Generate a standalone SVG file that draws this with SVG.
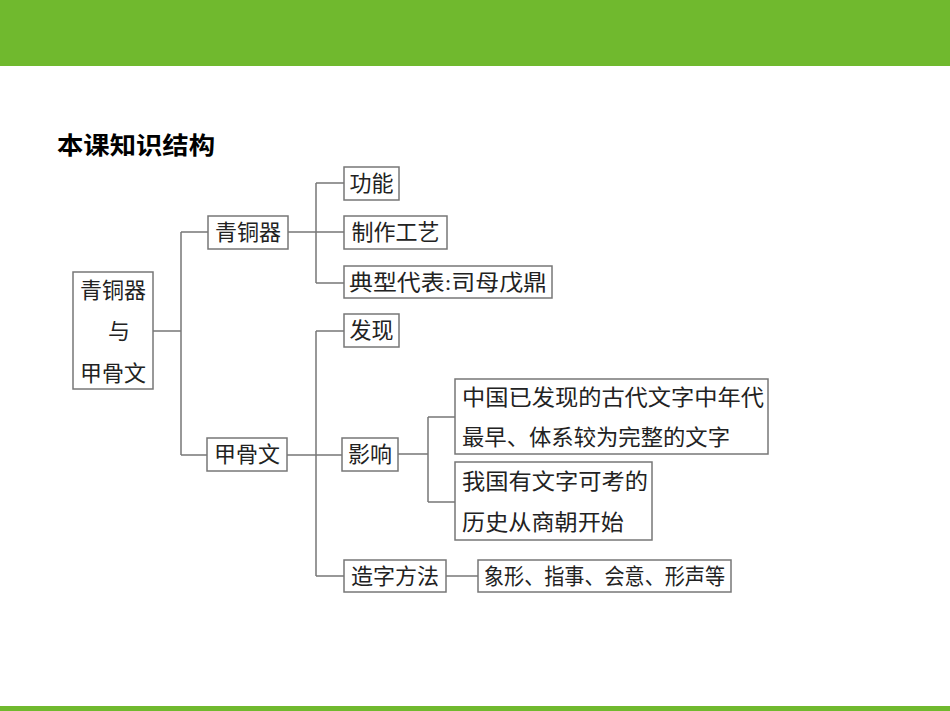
<svg xmlns="http://www.w3.org/2000/svg" width="950" height="711" viewBox="0 0 950 711">
<style>
.b{fill:#fff;stroke:#777;stroke-width:1.5}
.t{font-family:"Liberation Serif","Noto Sans CJK SC",serif;font-size:22px;fill:#222}
.c{fill:none;stroke:#777;stroke-width:1.5}
</style>
<rect x="0" y="0" width="950" height="66" fill="#70b92e"/>
<rect x="0" y="706" width="950" height="5" fill="#70b92e"/>
<text x="57" y="154" textLength="158" lengthAdjust="spacingAndGlyphs" style="font-family:'Noto Sans CJK SC',sans-serif;font-size:24px;font-weight:bold">本课知识结构</text>
<g id="connectors" class="c">
<path d="M153 331H181M181 232V455M181 232H208M181 455H207"/>
<path d="M288 232H344M316 183V283M316 183H344M316 283H344"/>
<path d="M287 455H342M316 331V576M316 331H344M316 576H344"/>
<path d="M398 454H428M428 417V502M428 417H455M428 502H455"/>
<path d="M446 576H478"/>
</g>
<g id="root"><rect class="b" x="73" y="272" width="80" height="117"/>
<text class="t" x="113" y="298" text-anchor="middle">青铜器</text>
<text class="t" x="119" y="339" text-anchor="middle">与</text>
<text class="t" x="113" y="381" text-anchor="middle">甲骨文</text></g>
<g id="qtq"><rect class="b" x="208" y="216" width="80" height="33"/><text class="t" x="248" y="240" text-anchor="middle">青铜器</text></g>
<g id="gn"><rect class="b" x="344" y="167" width="55" height="33"/><text class="t" x="371.5" y="191" text-anchor="middle">功能</text></g>
<g id="zz"><rect class="b" x="344" y="216" width="103" height="33"/><text class="t" x="395.5" y="240" text-anchor="middle">制作工艺</text></g>
<g id="dx"><rect class="b" x="344" y="266" width="208" height="32"/><text class="t" x="349" y="290" textLength="198" lengthAdjust="spacingAndGlyphs">典型代表:司母戊鼎</text></g>
<g id="jgw"><rect class="b" x="207" y="438" width="80" height="33"/><text class="t" x="247" y="462" text-anchor="middle">甲骨文</text></g>
<g id="fx"><rect class="b" x="344" y="314" width="55" height="33"/><text class="t" x="371.5" y="338" text-anchor="middle">发现</text></g>
<g id="yx"><rect class="b" x="342" y="438" width="56" height="33"/><text class="t" x="370" y="462" text-anchor="middle">影响</text></g>
<g id="zg"><rect class="b" x="455" y="379" width="313" height="75"/>
<text class="t" x="462" y="405" textLength="302" lengthAdjust="spacingAndGlyphs">中国已发现的古代文字中年代</text>
<text class="t" x="462" y="445" textLength="268" lengthAdjust="spacingAndGlyphs">最早、体系较为完整的文字</text></g>
<g id="wg"><rect class="b" x="455" y="462" width="197" height="78"/>
<text class="t" x="462" y="489" textLength="186" lengthAdjust="spacingAndGlyphs">我国有文字可考的</text>
<text class="t" x="462" y="530" textLength="162" lengthAdjust="spacingAndGlyphs">历史从商朝开始</text></g>
<g id="zf"><rect class="b" x="344" y="560" width="102" height="32"/><text class="t" x="395" y="584" text-anchor="middle">造字方法</text></g>
<g id="xx"><rect class="b" x="478" y="560" width="253" height="32"/><text class="t" x="484" y="584" textLength="241" lengthAdjust="spacingAndGlyphs">象形、指事、会意、形声等</text></g>
</svg>
